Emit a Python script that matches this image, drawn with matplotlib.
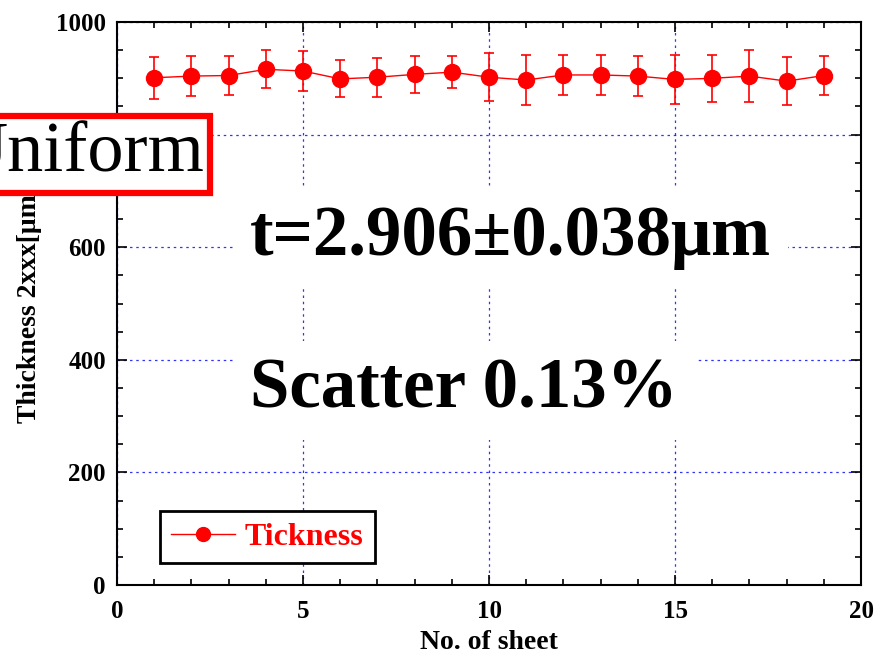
import numpy as np
import matplotlib.pyplot as plt
from matplotlib.ticker import MultipleLocator
from matplotlib.lines import Line2D

plt.rcParams['font.family'] = ['Liberation Serif', 'DejaVu Serif']

sheet = np.arange(1, 20)
thickness = [901, 904, 905, 916, 913, 899, 902, 907, 911, 902,
             897, 906, 906, 904, 898, 900, 904, 895, 905]
err = [37, 35, 35, 34, 36, 33, 35, 33, 29, 43,
       45, 35, 36, 35, 43, 42, 46, 43, 35]

xticks = [0, 5, 10, 15, 20]
yticks = [0, 200, 400, 600, 800, 1000]

fig = plt.figure(figsize=(8.89, 6.68), dpi=100)
ax = fig.add_axes([0.1316, 0.1243, 0.837, 0.8427])

ax.errorbar(sheet, thickness, yerr=err, color='red', marker='o', markersize=11.5,
            linewidth=1, elinewidth=1.2, capsize=3.5, capthick=1.2, zorder=5)

ax.set_xlim(0, 20)
ax.set_ylim(0, 1000)
ax.set_xticks(xticks)
ax.set_yticks(yticks)
ax.xaxis.set_minor_locator(MultipleLocator(1))
ax.yaxis.set_minor_locator(MultipleLocator(50))
ax.tick_params(which='both', direction='in', top=True, right=True, width=1.2)
ax.tick_params(which='major', length=7, labelsize=18, pad=8)
ax.tick_params(axis='x', which='major', pad=11)
ax.tick_params(which='minor', length=4)
for lab in ax.get_xticklabels() + ax.get_yticklabels():
    lab.set_fontweight('bold')
for s in ax.spines.values():
    s.set_linewidth(1.5)

ax.grid(True, which='major', color='blue', linestyle=(0, (2, 3)), linewidth=0.9, alpha=0.8)

ax.set_xlabel('No. of sheet', fontsize=20, fontweight='bold', labelpad=5)
ax.set_ylabel('Thickness 2xxx[μm]', fontsize=20, fontweight='bold', labelpad=10)

handle = Line2D([], [], color='red', marker='o', markersize=10, linewidth=1)
leg = ax.legend([handle], ['Tickness'], loc='lower left', bbox_to_anchor=(0.058, 0.039),
                borderaxespad=0, frameon=True, fancybox=False, framealpha=1,
                edgecolor='black', handlelength=2.0, handletextpad=0.3,
                borderpad=0.35, labelcolor='red', prop={'weight': 'bold', 'size': 23})
leg.get_frame().set_linewidth(2)

white = dict(facecolor='white', edgecolor='none', pad=12)
ax.text(0.179, 0.618, 't=2.906±0.038μm', transform=ax.transAxes, fontsize=51,
        fontweight='bold', va='center', ha='left', bbox=white, zorder=4)
ax.text(0.179, 0.346, 'Scatter 0.13%', transform=ax.transAxes, fontsize=51,
        fontweight='bold', va='center', ha='left', bbox=white, zorder=4)

fig.text(-0.05, 0.769, 'Uniform', fontsize=52, va='center', ha='left',
         bbox=dict(facecolor='white', edgecolor='red', linewidth=4.5, pad=4), zorder=10)

fig.savefig('out.png', dpi=100)
